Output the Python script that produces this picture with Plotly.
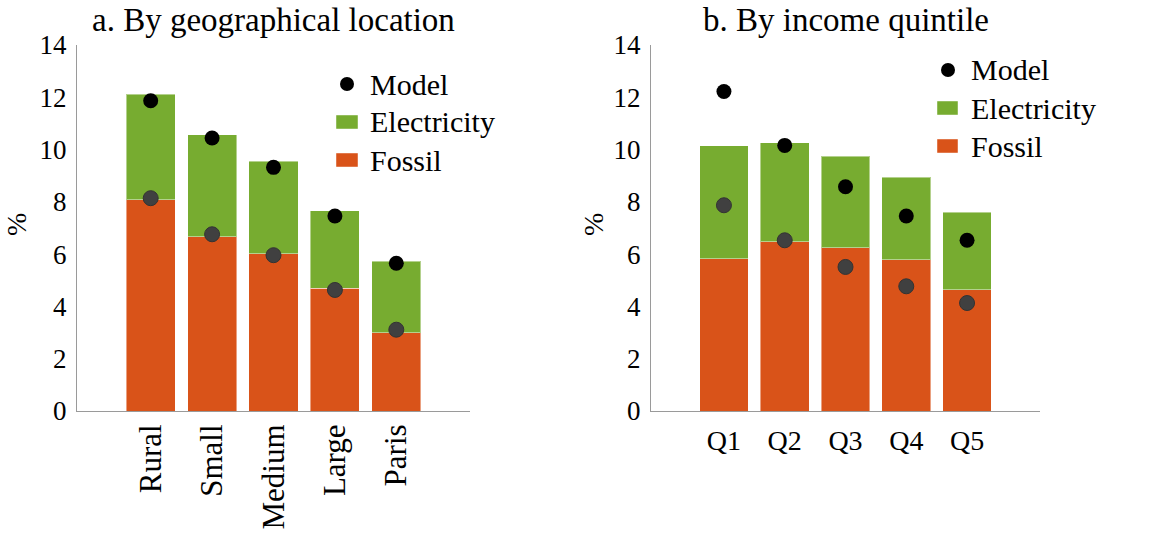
import plotly.graph_objects as go

# ---- data ----
geo_cats = ["Rural", "Small", "Medium", "Large", "Paris"]
geo_fossil = [8.08, 6.66, 6.02, 4.69, 3.00]
geo_elec = [4.03, 3.91, 3.53, 2.97, 2.73]
geo_model_total = [11.87, 10.44, 9.32, 7.46, 5.65]
geo_model_fossil = [8.14, 6.76, 5.96, 4.63, 3.11]

inc_cats = ["Q1", "Q2", "Q3", "Q4", "Q5"]
inc_fossil = [5.83, 6.47, 6.24, 5.78, 4.63]
inc_elec = [4.31, 3.79, 3.50, 3.17, 2.97]
inc_model_total = [12.22, 10.16, 8.58, 7.46, 6.53]
inc_model_fossil = [7.87, 6.53, 5.51, 4.77, 4.13]

titles = ["a. By geographical location", "b. By income quintile"]
legend_labels = ["Model", "Electricity", "Fossil"]
y_ticks = [0, 2, 4, 6, 8, 10, 12, 14]

FOSSIL = "#D95319"
ELEC = "#77AC30"
FONT = "Liberation Serif"
W, H = 1166, 537

def px(x):
    return x / W

def py(y):
    return 1 - y / H

fig = go.Figure()

def add_panel(cats, fossil, elec, mtot, mfos, xa, ya):
    fig.add_trace(go.Bar(x=cats, y=fossil, name="Fossil", marker_color=FOSSIL,
                         marker_line=dict(color="rgba(255,255,255,0.45)", width=1),
                         xaxis=xa, yaxis=ya, width=0.8, showlegend=False))
    fig.add_trace(go.Bar(x=cats, y=elec, name="Electricity", marker_color=ELEC,
                         marker_line=dict(color="rgba(255,255,255,0.45)", width=1),
                         xaxis=xa, yaxis=ya, width=0.8, showlegend=False))
    fig.add_trace(go.Scatter(x=cats, y=mfos, mode="markers", name="Model (fossil)",
                             marker=dict(color="#404040", size=15,
                                         line=dict(color="#333333", width=1)),
                             xaxis=xa, yaxis=ya, showlegend=False))
    fig.add_trace(go.Scatter(x=cats, y=mtot, mode="markers", name="Model",
                             marker=dict(color="black", size=15),
                             xaxis=xa, yaxis=ya, showlegend=False))

add_panel(geo_cats, geo_fossil, geo_elec, geo_model_total, geo_model_fossil, "x", "y")
add_panel(inc_cats, inc_fossil, inc_elec, inc_model_total, inc_model_fossil, "x2", "y2")

ydom = [py(411), py(45)]
axis_common = dict(showgrid=False, zeroline=False, showline=True, linecolor="#9a9a9a",
                   linewidth=1, ticks="", automargin=False)
fig.update_layout(
    width=W, height=H,
    margin=dict(l=0, r=0, t=0, b=0),
    paper_bgcolor="white", plot_bgcolor="white",
    barmode="stack",
    showlegend=False,
    font=dict(family=FONT, color="black"),
    xaxis=dict(domain=[px(77), px(470)], range=[-1.2, 5.2], tickangle=-90, anchor="y",
               tickfont=dict(family=FONT, size=31, color="black"), ticklabelstandoff=0,
               **axis_common),
    yaxis=dict(domain=ydom, range=[0, 14], tickvals=y_ticks, anchor="x",
               tickfont=dict(family=FONT, size=27, color="black"), ticklabelstandoff=4,
               **axis_common),
    xaxis2=dict(domain=[px(651), px(1040)], range=[-1.2, 5.2], tickangle=0, anchor="y2",
                tickfont=dict(family=FONT, size=28, color="black"), ticklabelstandoff=4,
                **axis_common),
    yaxis2=dict(domain=ydom, range=[0, 14], tickvals=y_ticks, anchor="x2",
                tickfont=dict(family=FONT, size=27, color="black"), ticklabelstandoff=4,
                **axis_common),
)

# titles
fig.add_annotation(text=titles[0], x=px(273), y=py(20), xref="paper", yref="paper",
                   xanchor="center", yanchor="middle", showarrow=False,
                   font=dict(family=FONT, size=33))
fig.add_annotation(text=titles[1], x=px(846), y=py(20), xref="paper", yref="paper",
                   xanchor="center", yanchor="middle", showarrow=False,
                   font=dict(family=FONT, size=33))

# y-axis labels
for xc in (17, 594):
    fig.add_annotation(text="%", x=px(xc), y=py(225), xref="paper", yref="paper",
                       xanchor="center", yanchor="middle", textangle=-90, showarrow=False,
                       font=dict(family=FONT, size=28))

# custom legends: (dot x, swatch x0, swatch x1, text x, row y centers)
legends = [
    dict(dot_x=347, sx0=336, sx1=358, tx=368, rows=[84, 122, 160]),
    dict(dot_x=948, sx0=937, sx1=958, tx=969, rows=[70, 108, 146]),
]
for lg in legends:
    r0, r1, r2 = lg["rows"]
    fig.add_shape(type="circle", xref="paper", yref="paper",
                  xsizemode="pixel", ysizemode="pixel",
                  xanchor=px(lg["dot_x"]), yanchor=py(r0),
                  x0=-7, x1=7, y0=-7, y1=7,
                  fillcolor="black", line=dict(color="black", width=0))
    for yc, col in ((r1, ELEC), (r2, FOSSIL)):
        fig.add_shape(type="rect", xref="paper", yref="paper",
                      x0=px(lg["sx0"]), x1=px(lg["sx1"]), y0=py(yc + 7), y1=py(yc - 7),
                      fillcolor=col, line=dict(color="rgba(255,255,255,0.45)", width=1))
    for yc, lab in zip(lg["rows"], legend_labels):
        fig.add_annotation(text=lab, x=px(lg["tx"]), y=py(yc), xref="paper", yref="paper",
                           xanchor="left", yanchor="middle", showarrow=False,
                           font=dict(family=FONT, size=30))

fig.write_html("out.html", config={"displayModeBar": False},
               post_script="document.body.style.margin='0';")
